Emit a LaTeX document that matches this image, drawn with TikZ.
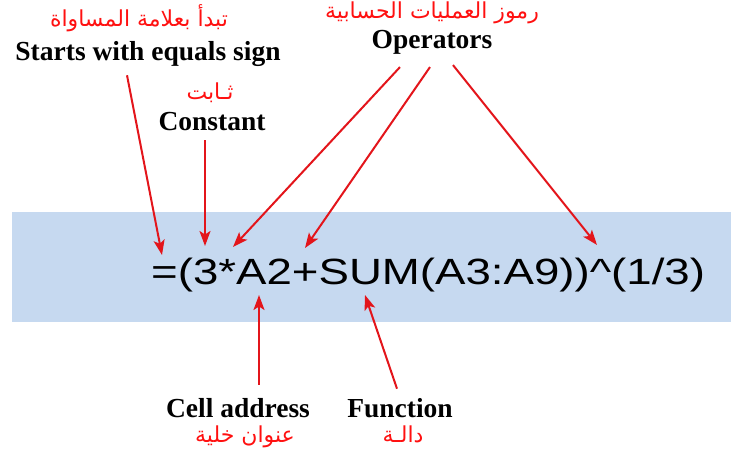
\documentclass[tikz,border=0pt]{standalone}
\usepackage{fontspec}
\usepackage{graphicx}
\setmainfont{Liberation Serif}
\newfontfamily\formulafont{Liberation Sans}
\newfontfamily\arabicfont[Script=Arabic]{DejaVu Sans}
\TeXXeTstate=1
\usetikzlibrary{arrows.meta}
\definecolor{bandblue}{HTML}{C6D9F0}
\definecolor{pointred}{HTML}{E3151B}
\definecolor{labelred}{HTML}{FF1010}

\begin{document}
\begin{tikzpicture}[x=1pt,y=-1pt,
    enlabel/.style={font=\fontsize{27.5}{30}\selectfont\bfseries, anchor=base, inner sep=0pt},
    arlabel/.style={font=\fontsize{22}{24}\selectfont\arabicfont, text=labelred, anchor=base, inner sep=0pt},
    pointer/.style={draw=pointred, line width=2pt, -{Stealth[length=15pt,width=11pt,inset=3.5pt]}}]
    \useasboundingbox (0,0) rectangle (731,459);

    % Band behind the formula
    \fill[bandblue] (12,212) rectangle (731,322);

    % Formula
    \node[anchor=base west, inner sep=0pt, font=\fontsize{36.5}{40}\selectfont\formulafont] (formula) at (151,284)
        {\scalebox{1.25}[1]{=(3*A2+SUM(A3:A9))\textasciicircum(1/3)}};

    % Arrow tips on the formula
    \coordinate (eqTip) at (162,255);
    \coordinate (threeTip) at (205,246);
    \coordinate (timesTip) at (233,247);
    \coordinate (plusTip) at (305,248);
    \coordinate (powTip) at (597,245);
    \coordinate (cellTip) at (259,295);
    \coordinate (sumTip) at (365,295);

    % Labels above
    \node[arlabel] (equalsAr) at (139,26) {\beginR تبدأ بعلامة المساواة\endR};
    \node[enlabel] (equalsEn) at (148,60) {Starts with equals sign};
    \node[arlabel] (constAr) at (210,99) {\beginR ثـابت\endR};
    \node[enlabel] (constEn) at (212,130) {Constant};
    \node[arlabel] (opsAr) at (432,18) {\beginR رموز العمليات الحسابية\endR};
    \node[enlabel] (opsEn) at (432,48) {Operators};

    % Labels below
    \node[enlabel] (cellEn) at (238,417) {Cell address};
    \node[arlabel] (cellAr) at (245,442) {\beginR عنوان خلية\endR};
    \node[enlabel] (funcEn) at (400,417) {Function};
    \node[arlabel] (funcAr) at (403,442) {\beginR دالـة\endR};

    % Pointers
    \draw[pointer] ([xshift=-21pt,yshift=-9pt]equalsEn.south) -- (eqTip);
    \draw[pointer] ([xshift=-7pt,yshift=-10pt]constEn.south) -- (threeTip);
    \draw[pointer] ([xshift=-32pt,yshift=-13pt]opsEn.south) -- (timesTip);
    \draw[pointer] ([xshift=-2pt,yshift=-13pt]opsEn.south) -- (plusTip);
    \draw[pointer] ([xshift=21pt,yshift=-11pt]opsEn.south) -- (powTip);
    \draw[pointer] ([xshift=21pt,yshift=13pt]cellEn.north) -- (cellTip);
    \draw[pointer] ([xshift=-3pt,yshift=9pt]funcEn.north) -- (sumTip);

\end{tikzpicture}
\end{document}
